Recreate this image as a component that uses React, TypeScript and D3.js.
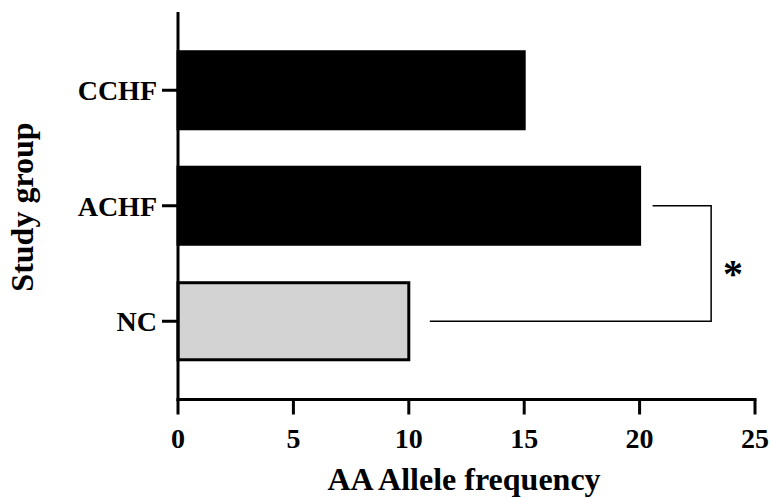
import React from "react";
import * as d3 from "d3";

const categories = ["CCHF", "ACHF", "NC"];
const values = [15, 20, 10];
const fills = ["#000000", "#000000", "#d3d3d3"];
const xTicks = [0, 5, 10, 15, 20, 25];
const xTitle = "AA Allele frequency";
const yTitle = "Study group";
const sigLabel = "*";

const W = 771;
const H = 499;
const font = "'Liberation Serif', 'Times New Roman', serif";

export default function App() {
  const x = d3.scaleLinear().domain([0, 25]).range([178, 755]);
  const y = d3
    .scaleBand<string>()
    .domain(categories)
    .range([12, 399.5])
    .paddingInner(0.333)
    .paddingOuter(0.344);
  const bw = y.bandwidth();
  const c = (k: string) => (y(k) as number) + bw / 2;
  const axisY = 399.5;
  const bx = x(23.1);
  const topY = c("ACHF");
  const botY = c("NC");
  return (
    <svg
      width={W}
      height={H}
      style={{ position: "absolute", left: 0, top: 0, background: "#fff" }}
      fontFamily={font}
      fontWeight="bold"
    >
      {categories.map((k, i) => (
        <rect
          key={k}
          x={x(0)}
          y={y(k) as number}
          width={x(values[i]) - x(0)}
          height={bw}
          fill={fills[i]}
          stroke="#000"
          strokeWidth={3}
        />
      ))}
      {/* y axis */}
      <line x1={x(0)} x2={x(0)} y1={12} y2={axisY + 1.5} stroke="#000" strokeWidth={3} />
      {categories.map((k) => (
        <g key={k}>
          <line x1={162} x2={x(0)} y1={c(k)} y2={c(k)} stroke="#000" strokeWidth={3} />
          <text x={157} y={c(k)} dy="0.35em" textAnchor="end" fontSize={28}>
            {k}
          </text>
        </g>
      ))}
      {/* x axis */}
      <line x1={x(0) - 1.5} x2={x(25) + 1.5} y1={axisY} y2={axisY} stroke="#000" strokeWidth={3} />
      {xTicks.map((t) => (
        <g key={t}>
          <line x1={x(t)} x2={x(t)} y1={axisY} y2={axisY + 15} stroke="#000" strokeWidth={3} />
          <text x={x(t)} y={448} textAnchor="middle" fontSize={28}>
            {t}
          </text>
        </g>
      ))}
      <text x={464} y={490} textAnchor="middle" fontSize={32}>
        {xTitle}
      </text>
      <text
        transform={`translate(33, 207) rotate(-90)`}
        textAnchor="middle"
        fontSize={32}
      >
        {yTitle}
      </text>
      {/* significance bracket */}
      <path
        d={`M${x(20) + 13},${topY}H${bx}V${botY}H${x(10) + 21}`}
        fill="none"
        stroke="#000"
        strokeWidth={1.5}
      />
      <text x={733} y={286.5} textAnchor="middle" fontSize={40}>
        {sigLabel}
      </text>
    </svg>
  );
}
